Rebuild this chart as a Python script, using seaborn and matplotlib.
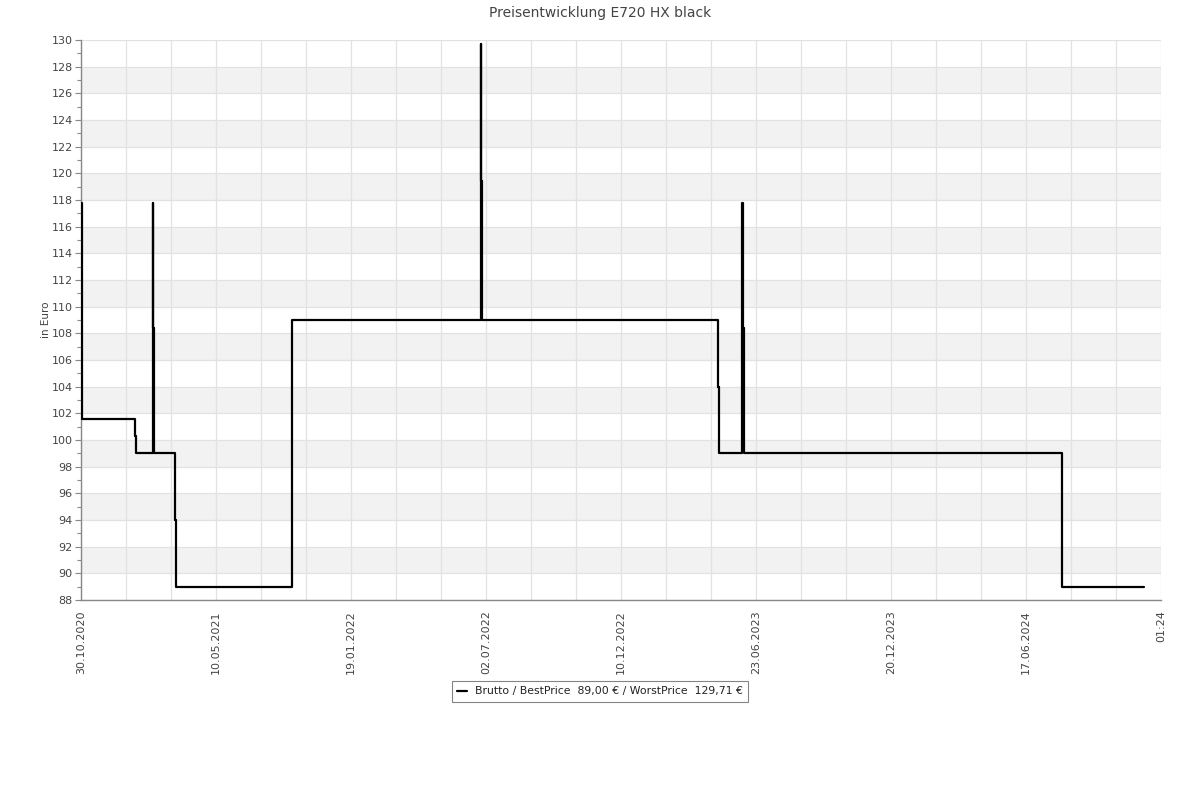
import matplotlib
matplotlib.use("Agg")
import matplotlib.pyplot as plt
import seaborn as sns
import pandas as pd
from matplotlib.ticker import MultipleLocator

# --- DATA (x in axis units: one unit per labelled date tick) ---
tick_labels = ["30.10.2020", "10.05.2021", "19.01.2022", "02.07.2022", "10.12.2022",
               "23.06.2023", "20.12.2023", "17.06.2024", "01:24"]

x_pos = [0.000, 0.004, 0.007, 0.400, 0.407, 0.533, 0.534, 0.542, 0.696, 0.704,
         1.563, 2.963, 2.964, 2.972, 4.719, 4.726, 4.899, 4.900, 4.909, 7.267, 7.874]
prices = [117.8, 109.7, 101.6, 100.3, 99.0, 117.8, 108.4, 99.0, 94.0, 89.0,
          109.0, 129.7, 119.4, 109.0, 104.0, 99.0, 117.8, 108.4, 99.0, 89.0, 89.0]

title = "Preisentwicklung E720 HX black"
y_label = "in Euro"
legend_label = "Brutto / BestPrice  89,00 € / WorstPrice  129,71 €"

df = pd.DataFrame({"x": x_pos, "price": prices})

sns.set_theme(style="white")
plt.rcParams["font.family"] = ["DejaVu Sans"]

fig = plt.figure(figsize=(12, 8), dpi=100)
ax = fig.add_axes([0.0675, 0.25, 0.9, 0.70])

y_min, y_max = 88, 130
ax.set_ylim(y_min, y_max)
ax.set_xlim(0, len(tick_labels) - 1)

# alternating grey bands between gridlines
for lo in range(y_min + 2, y_max, 4):
    ax.axhspan(lo, lo + 2, color="#f2f2f2", zorder=0, lw=0)

ax.set_yticks(range(y_min, y_max + 1, 2))
ax.yaxis.set_minor_locator(MultipleLocator(1))
ax.set_xticks(range(len(tick_labels)))
ax.set_xticklabels(tick_labels, rotation=90)
ax.xaxis.set_minor_locator(MultipleLocator(1 / 3))

ax.grid(True, which="major", color="#e2e2e2", lw=0.9, zorder=1)
ax.grid(True, which="minor", axis="x", color="#e2e2e2", lw=0.9, zorder=1)

sns.lineplot(data=df, x="x", y="price", ax=ax, color="black", linewidth=1.6,
             drawstyle="steps-post", estimator=None, sort=False,
             label=legend_label, zorder=3)

for side in ["top", "right"]:
    ax.spines[side].set_visible(False)
for side in ["left", "bottom"]:
    ax.spines[side].set_color("#888888")
    ax.spines[side].set_linewidth(1.0)

ax.tick_params(axis="y", which="major", left=True, length=4, width=0.8,
               color="#888888", labelsize=8, labelcolor="#444444", pad=2)
ax.tick_params(axis="y", which="minor", left=True, length=3, width=0.8, color="#888888")
ax.tick_params(axis="x", which="both", bottom=False, labelsize=8,
               labelcolor="#444444", pad=1.5)

ax.set_xlabel("")
ax.set_ylabel("")
fig.text(46 / 1200, 1 - 320 / 800, y_label, rotation=90, fontsize=7.5,
         color="#444444", ha="center", va="center")

fig.text(0.5, 1 - 13 / 800, title, fontsize=10, color="#444444",
         ha="center", va="center")

leg = ax.legend(loc="upper center", bbox_to_anchor=(0.5, 1 - 681 / 800),
                bbox_transform=fig.transFigure, frameon=True,
                fancybox=False, fontsize=7.8, handlelength=0.9, borderpad=0.5,
                handletextpad=0.7, borderaxespad=0)
leg.get_frame().set_edgecolor("#666666")
leg.get_frame().set_linewidth(0.8)
for t in leg.get_texts():
    t.set_color("#222222")

fig.savefig("out.png", dpi=100)
